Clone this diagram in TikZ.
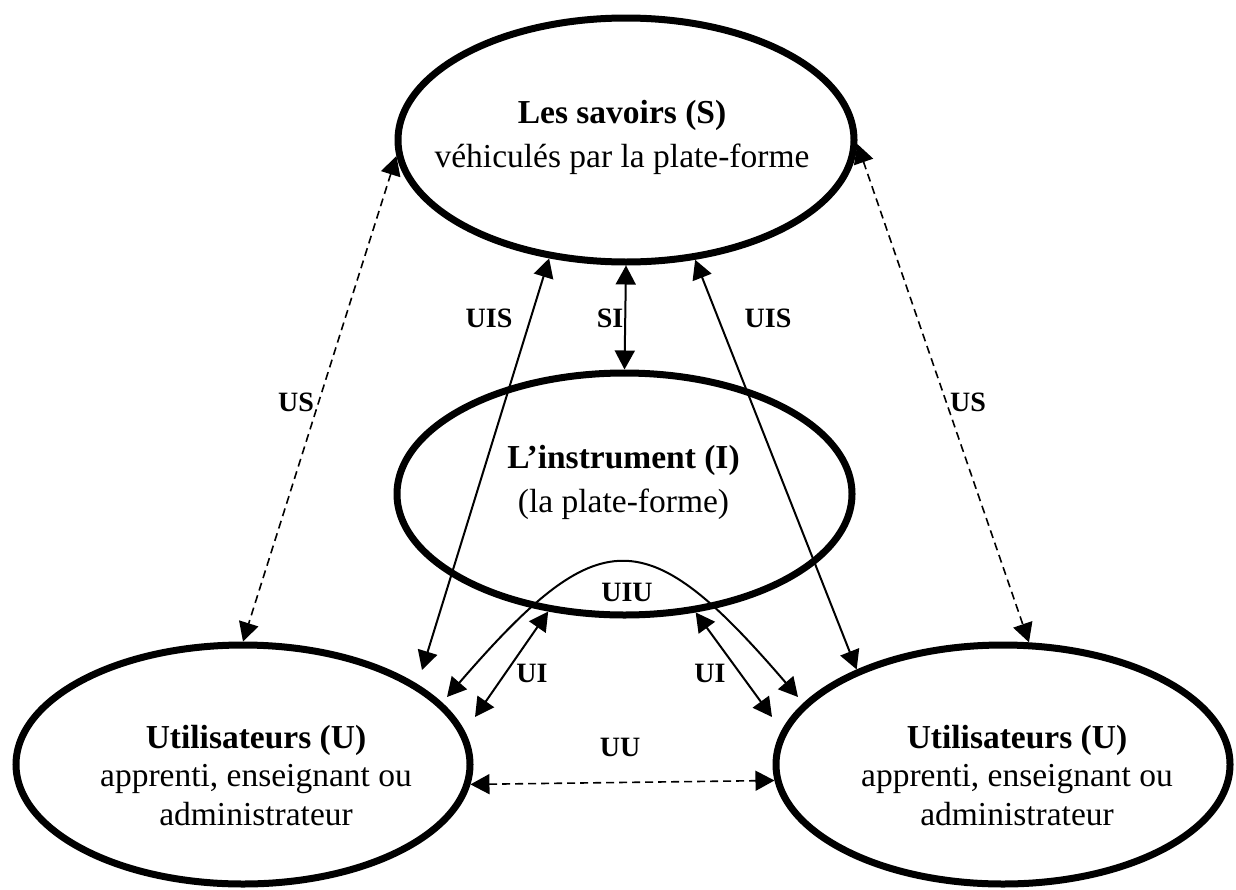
\documentclass[tikz,border=0pt]{standalone}
\usepackage{fontspec}
\setmainfont{Liberation Serif}
\usetikzlibrary{shapes.geometric,arrows.meta}
\begin{document}
\begin{tikzpicture}[x=1pt,y=-1pt,
  ell/.style={ellipse, draw, line width=7pt, inner sep=0pt},
  txt/.style={font=\fontsize{33.5}{44}\selectfont, align=center, inner sep=0pt},
  txtu/.style={font=\fontsize{33.5}{38.5}\selectfont, align=center, inner sep=0pt},
  lbl/.style={font=\fontsize{28}{30}\selectfont\bfseries, inner sep=0pt},
  ar/.style={line width=2pt, {Triangle[length=19pt,width=20pt]}-{Triangle[length=19pt,width=20pt]}},
  da/.style={ar, line width=1.6pt, dash pattern=on 8pt off 5pt}]
\useasboundingbox (0,0) rectangle (1236,889);
% ellipses
\node[ell, minimum width=456pt, minimum height=244pt] (S) at (626,140) {};
\node[ell, minimum width=455pt, minimum height=242pt] (I) at (624.5,494) {};
\node[ell, minimum width=454pt, minimum height=239pt] (U1) at (243,764.5) {};
\node[ell, minimum width=454pt, minimum height=239pt] (U2) at (1003,764.5) {};
% texts
\node[txt] (St) at (622,137) {\textbf{Les savoirs (S)}\\véhiculés par la plate-forme};
\node[txt] (It) at (623.5,482) {\textbf{L’instrument (I)}\\(la plate-forme)};
\node[txtu] (U1t) at (256,775.5) {\textbf{Utilisateurs (U)}\\apprenti, enseignant ou\\administrateur};
\node[txtu] (U2t) at (1017,775.5) {\textbf{Utilisateurs (U)}\\apprenti, enseignant ou\\administrateur};
% free ends
\coordinate (uisL) at (422,670);
\coordinate (uiL) at (475,717);
\coordinate (uiR) at (772,717);
\coordinate (uiuL) at (447,697);
\coordinate (uiuR) at (798,697);
% connectors
\draw[da] (S.184.46) -- (U1.90);
\draw[da] (S.359) -- (U2.78.6);
\draw[ar] (S.237.3) -- (uisL);
\draw[ar] (S.south) -- (I.north);
\draw[ar] (S.300.3) -- (U2.147.96);
\draw[ar] (I.237.3) -- (uiL);
\draw[ar] (I.301.3) -- (uiR);
\draw[ar] (uiuL) .. controls (600,520) and (646,520) .. (uiuR);
\draw[da] (U1.355.65) -- (U2.184.35);
% labels
\node[lbl] (lUSl) at (296,402) {US};
\node[lbl] (lUSr) at (968,402) {US};
\node[lbl] (lUISl) at (489,318) {UIS};
\node[lbl] (lSI) at (610,318) {SI};
\node[lbl] (lUISr) at (768,318) {UIS};
\node[lbl] (lUIU) at (627,592) {UIU};
\node[lbl] (lUIl) at (532,673) {UI};
\node[lbl] (lUIr) at (710,673) {UI};
\node[lbl] (lUU) at (620,747) {UU};
\end{tikzpicture}
\end{document}
